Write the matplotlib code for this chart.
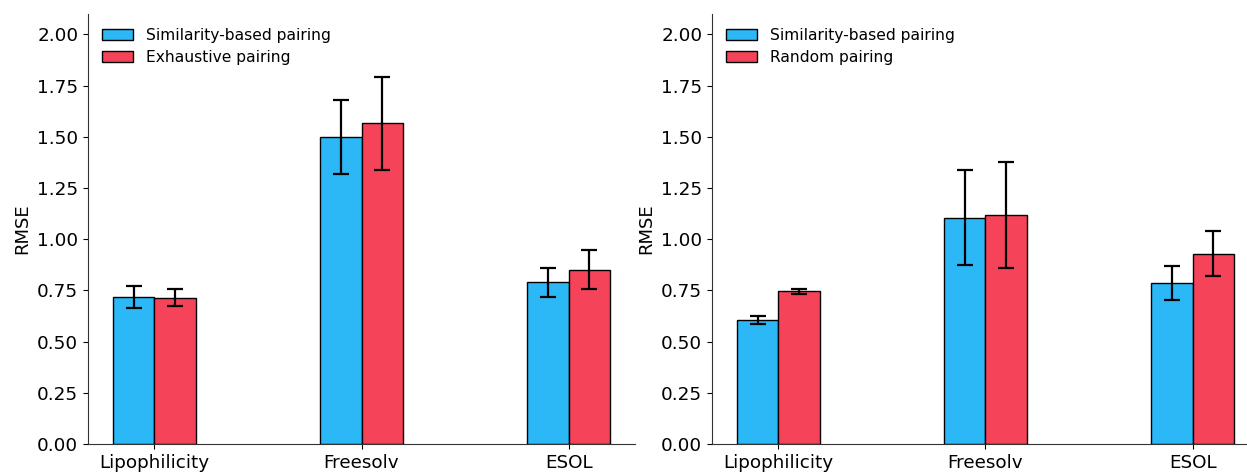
import matplotlib
matplotlib.use("Agg")
import matplotlib.pyplot as plt
import numpy as np

# RMSE per dataset, mean and spread for each pairing strategy.
datasets = ["Lipophilicity", "Freesolv", "ESOL"]

sim_left = [0.72, 1.50, 0.79]
sim_left_err = [0.054, 0.18, 0.07]
exhaustive = [0.715, 1.566, 0.85]
exhaustive_err = [0.04, 0.228, 0.095]

sim_right = [0.605, 1.105, 0.787]
sim_right_err = [0.018, 0.231, 0.083]
random_pair = [0.745, 1.118, 0.929]
random_err = [0.011, 0.258, 0.11]

BLUE = "#2CB7F6"
RED = "#F5445A"


def draw_panel(ax, blue, blue_err, red, red_err, red_label):
    x = np.arange(len(datasets))
    w = 0.2
    err_kw = dict(elinewidth=1.6, capthick=1.6, ecolor="black")
    ax.bar(x - w / 2, blue, w, yerr=blue_err, capsize=6, color=BLUE,
           edgecolor="black", linewidth=1.0, error_kw=err_kw,
           label="Similarity-based pairing")
    ax.bar(x + w / 2, red, w, yerr=red_err, capsize=6, color=RED,
           edgecolor="black", linewidth=1.0, error_kw=err_kw,
           label=red_label)
    ax.set_xticks(x)
    ax.set_xticklabels(datasets, fontsize=13.2)
    ticks = np.arange(0, 2.01, 0.25)
    ax.set_ylim(0, 2.1)
    ax.set_yticks(ticks)
    ax.set_yticklabels([f"{v:.2f}" for v in ticks], fontsize=13.2)
    ax.set_ylabel("RMSE", fontsize=13)
    ax.spines["top"].set_visible(False)
    ax.spines["right"].set_visible(False)
    for s in ("left", "bottom"):
        ax.spines[s].set_color("#333333")
    ax.legend(loc="upper left", frameon=False, fontsize=11.2,
              labelspacing=0.45, bbox_to_anchor=(0.0, 1.0))


fig = plt.figure(figsize=(12.47, 4.73), dpi=100)
ax1 = fig.add_axes([88 / 1247, 29 / 473, 547 / 1247, 430 / 473])
ax2 = fig.add_axes([712 / 1247, 29 / 473, 547 / 1247, 430 / 473])

draw_panel(ax1, sim_left, sim_left_err, exhaustive, exhaustive_err, "Exhaustive pairing")
draw_panel(ax2, sim_right, sim_right_err, random_pair, random_err, "Random pairing")

fig.savefig("out.png", dpi=100)
